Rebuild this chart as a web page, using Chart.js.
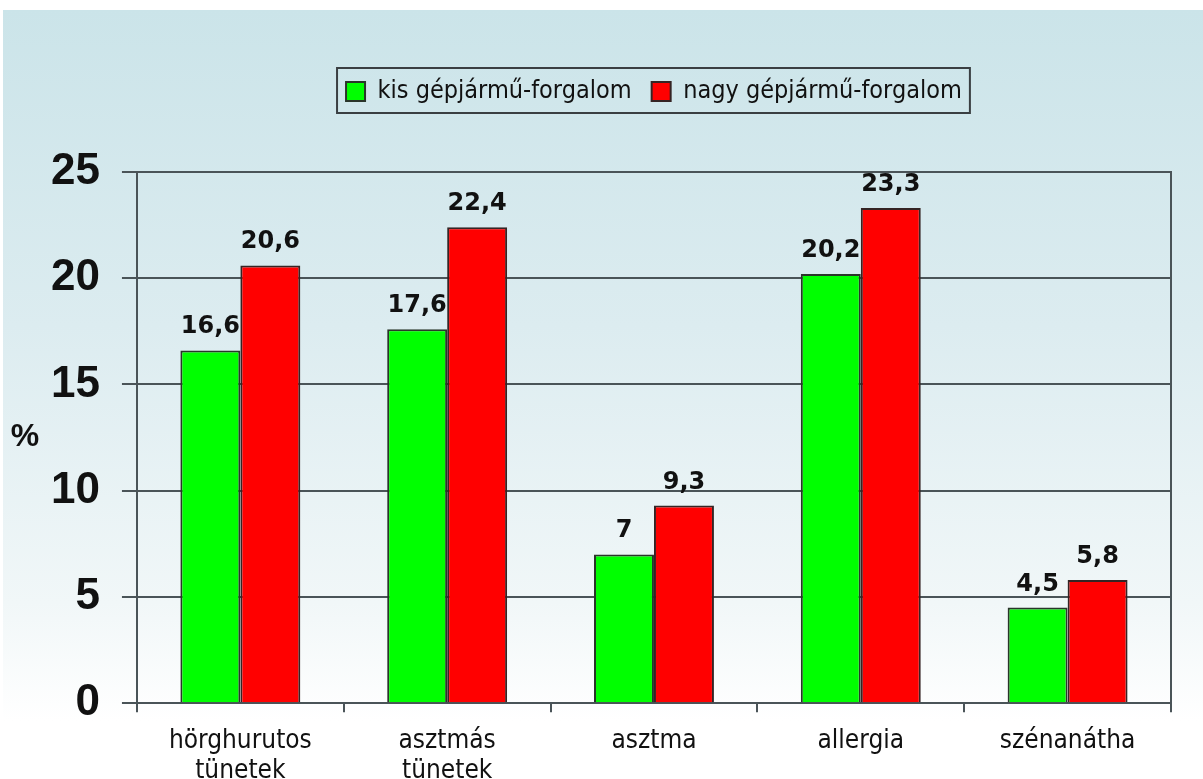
<!DOCTYPE html>
<html lang="hu">
<head>
<meta charset="utf-8">
<title>Gépjármű-forgalom és légúti tünetek</title>
<script src="https://cdn.jsdelivr.net/npm/chart.js@4"></script>
<style>
    body { margin: 0; background: #ffffff; overflow: hidden; }
    .chart-wrap {
        position: absolute;
        left: 3px;
        top: 10px;
        width: 1200px;
        height: 790px;
        background: linear-gradient(to bottom, #cbe4e9 0%, #dcecf0 40%, #f1f7f8 75%, #ffffff 90%);
    }
</style>
</head>
<body>
<div class="chart-wrap"><canvas id="forgalomChart"></canvas></div>
<script>
// Data
const categories = [['hörghurutos', 'tünetek'], ['asztmás', 'tünetek'], 'asztma', 'allergia', 'szénanátha'];
const seriesNames = ['kis gépjármű-forgalom', 'nagy gépjármű-forgalom'];
const kisForgalom = [16.6, 17.6, 7, 20.2, 4.5];
const nagyForgalom = [20.6, 22.4, 9.3, 23.3, 5.8];
const yTicks = [0, 5, 10, 15, 20, 25];

const gridColor = '#4a5458';

// extra room under the legend
const legendGap = {
    id: 'legendGap',
    afterInit(chart) {
        const fit = chart.legend.fit;
        chart.legend.fit = function () {
            fit.call(this);
            this.height += 58;
        };
    }
};

// frame around the legend items
const legendFrame = {
    id: 'legendFrame',
    afterDraw(chart) {
        const boxes = chart.legend.legendHitBoxes;
        if (!boxes || !boxes.length) return;
        const first = boxes[0], last = boxes[boxes.length - 1];
        const ctx = chart.ctx;
        ctx.save();
        ctx.strokeStyle = '#3a3f42';
        ctx.lineWidth = 2;
        ctx.strokeRect(first.left - 9, first.top - 11, last.left + last.width + 8 - (first.left - 9), first.height + 20);
        ctx.restore();
    }
};

// right edge of plot + "%" label
const plotFrame = {
    id: 'plotFrame',
    afterDraw(chart) {
        const a = chart.chartArea, ctx = chart.ctx;
        ctx.save();
        ctx.strokeStyle = gridColor;
        ctx.lineWidth = 2;
        ctx.beginPath();
        ctx.moveTo(a.right, a.top - 1);
        ctx.lineTo(a.right, a.bottom);
        ctx.stroke();
        ctx.fillStyle = '#111';
        ctx.font = 'bold 32px "Liberation Sans", Arial, sans-serif';
        ctx.textAlign = 'center';
        ctx.textBaseline = 'middle';
        ctx.fillText('%', chart.scales.y.left - 4, (a.top + a.bottom) / 2);
        ctx.restore();
    }
};

// value labels above bars
const valueLabels = {
    id: 'valueLabels',
    afterDatasetsDraw(chart) {
        const ctx = chart.ctx;
        ctx.save();
        ctx.fillStyle = '#111';
        ctx.font = 'bold 24px "DejaVu Sans", sans-serif';
        ctx.textAlign = 'center';
        ctx.textBaseline = 'alphabetic';
        chart.data.datasets.forEach((ds, i) => {
            chart.getDatasetMeta(i).data.forEach((bar, j) => {
                ctx.fillText(String(ds.data[j]).replace('.', ','), bar.x, bar.y - 17);
            });
        });
        ctx.restore();
    }
};

const ctx = document.getElementById('forgalomChart').getContext('2d');
new Chart(ctx, {
    type: 'bar',
    data: {
        labels: categories,
        datasets: [{
            label: seriesNames[0],
            data: kisForgalom,
            backgroundColor: '#00ff00',
            borderColor: '#2a352a',
            borderWidth: 2
        }, {
            label: seriesNames[1],
            data: nagyForgalom,
            backgroundColor: '#ff0000',
            borderColor: '#352424',
            borderWidth: 2
        }]
    },
    options: {
        responsive: true,
        maintainAspectRatio: false,
        animation: false,
        layout: { padding: { top: 49, left: 26, right: 32, bottom: 0 } },
        datasets: { bar: { categoryPercentage: 0.58, barPercentage: 1.0 } },
        plugins: {
            legend: {
                position: 'top',
                fullSize: false,
                labels: {
                    color: '#111',
                    boxWidth: 19,
                    boxHeight: 19,
                    padding: 20,
                    font: { family: '"DejaVu Sans Condensed", "DejaVu Sans", sans-serif', size: 25 }
                }
            },
            tooltip: { enabled: false }
        },
        scales: {
            x: {
                grid: { drawOnChartArea: false, offset: true, color: gridColor, lineWidth: 2, tickLength: 9 },
                border: { color: gridColor, width: 2 },
                ticks: {
                    color: '#111',
                    padding: 14,
                    maxRotation: 0,
                    font: { family: '"DejaVu Sans Condensed", "DejaVu Sans", sans-serif', size: 26, lineHeight: 1.15 }
                }
            },
            y: {
                min: yTicks[0],
                max: yTicks[yTicks.length - 1],
                afterBuildTicks(scale) { scale.ticks = yTicks.map(v => ({ value: v })); },
                grid: { color: gridColor, lineWidth: 2, tickLength: 15 },
                border: { color: gridColor, width: 2 },
                ticks: {
                    color: '#111',
                    padding: 22,
                    font: { family: '"Liberation Sans", Arial, sans-serif', size: 44, weight: 'bold' }
                }
            }
        }
    },
    plugins: [legendGap, legendFrame, plotFrame, valueLabels]
});
</script>
</body>
</html>
